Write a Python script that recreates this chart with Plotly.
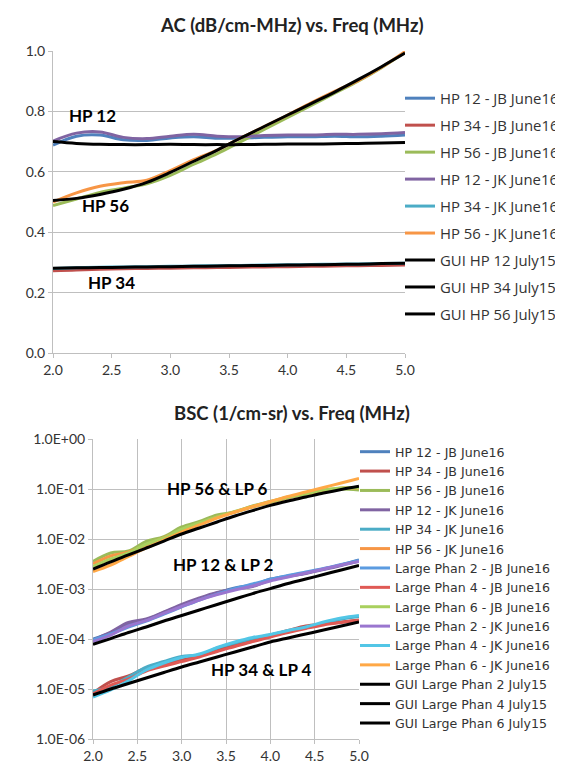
import plotly.graph_objects as go

freq = [2.0, 2.2, 2.4, 2.6, 2.8, 3.0, 3.2, 3.4, 3.6, 3.8, 4.0, 4.2, 4.4, 4.6, 4.8, 5.0]

# ---- Top chart: AC (dB/cm-MHz) ----
ac_hp12_jb = [0.688, 0.718, 0.722, 0.706, 0.704, 0.712, 0.716, 0.711, 0.712, 0.714, 0.716, 0.716, 0.718, 0.716, 0.718, 0.722]
ac_hp34_jb = [0.272, 0.275, 0.277, 0.279, 0.280, 0.281, 0.282, 0.283, 0.284, 0.285, 0.286, 0.287, 0.288, 0.289, 0.290, 0.291]
ac_hp56_jb = [0.488, 0.510, 0.532, 0.546, 0.560, 0.588, 0.625, 0.660, 0.700, 0.740, 0.780, 0.820, 0.860, 0.900, 0.945, 0.996]
ac_hp12_jk = [0.702, 0.728, 0.732, 0.714, 0.710, 0.718, 0.724, 0.718, 0.716, 0.720, 0.722, 0.722, 0.724, 0.724, 0.726, 0.730]
ac_hp34_jk = [0.280, 0.282, 0.284, 0.285, 0.286, 0.287, 0.288, 0.289, 0.290, 0.291, 0.292, 0.293, 0.294, 0.295, 0.296, 0.297]
ac_hp56_jk = [0.500, 0.530, 0.552, 0.564, 0.572, 0.604, 0.640, 0.672, 0.712, 0.750, 0.788, 0.828, 0.866, 0.902, 0.946, 0.998]
ac_gui_hp12 = [0.700, 0.694, 0.691, 0.690, 0.690, 0.691, 0.690, 0.690, 0.690, 0.691, 0.692, 0.692, 0.693, 0.694, 0.695, 0.697]
ac_gui_hp34 = [0.281, 0.282, 0.283, 0.284, 0.285, 0.286, 0.287, 0.288, 0.289, 0.290, 0.291, 0.292, 0.293, 0.294, 0.296, 0.297]
ac_gui_hp56 = [0.505, 0.512, 0.525, 0.542, 0.565, 0.598, 0.635, 0.672, 0.712, 0.750, 0.788, 0.826, 0.864, 0.905, 0.948, 0.993]

# ---- Bottom chart: BSC (1/cm-sr) ----
bsc_hp12_jb = [1.0e-4, 1.32e-4, 1.91e-4, 2.4e-4, 3.39e-4, 4.68e-4, 6.31e-4, 8.32e-4, 1.05e-3, 1.2e-3, 1.58e-3, 1.82e-3, 2.09e-3, 2.51e-3, 3.02e-3, 3.8e-3]
bsc_hp34_jb = [8.32e-6, 1.41e-5, 1.82e-5, 2.63e-5, 3.16e-5, 3.8e-5, 4.57e-5, 6.03e-5, 7.59e-5, 9.55e-5, 1.2e-4, 1.48e-4, 1.82e-4, 2.0e-4, 2.19e-4, 2.4e-4]
bsc_hp56_jb = [3.55e-3, 5.25e-3, 5.75e-3, 8.91e-3, 1.12e-2, 1.74e-2, 2.24e-2, 3.02e-2, 3.47e-2, 4.57e-2, 5.62e-2, 6.92e-2, 8.13e-2, 9.55e-2, 1.0e-1, 9.55e-2]
bsc_hp12_jk = [9.5e-5, 1.38e-4, 2.14e-4, 2.51e-4, 3.47e-4, 4.9e-4, 6.61e-4, 8.51e-4, 1.0e-3, 1.12e-3, 1.51e-3, 1.78e-3, 2.04e-3, 2.45e-3, 2.95e-3, 3.63e-3]
bsc_hp34_jk = [9.12e-6, 1.12e-5, 1.74e-5, 2.75e-5, 3.55e-5, 4.47e-5, 4.79e-5, 6.61e-5, 8.32e-5, 1.02e-4, 1.2e-4, 1.45e-4, 1.66e-4, 2.09e-4, 2.51e-4, 2.82e-4]
bsc_hp56_jk = [3.16e-3, 4.57e-3, 5.5e-3, 7.59e-3, 1.07e-2, 1.48e-2, 2.0e-2, 2.75e-2, 3.47e-2, 4.37e-2, 5.37e-2, 6.61e-2, 7.94e-2, 8.71e-2, 1.05e-1, 1.02e-1]
bsc_lp2_jb = [9.55e-5, 1.26e-4, 1.74e-4, 2.29e-4, 3.16e-4, 4.37e-4, 6.03e-4, 7.94e-4, 1.02e-3, 1.26e-3, 1.55e-3, 1.86e-3, 2.19e-3, 2.57e-3, 3.09e-3, 3.72e-3]
bsc_lp4_jb = [7.94e-6, 1.2e-5, 1.58e-5, 2.29e-5, 2.88e-5, 3.55e-5, 4.37e-5, 5.62e-5, 7.08e-5, 8.91e-5, 1.1e-4, 1.35e-4, 1.62e-4, 1.91e-4, 2.14e-4, 2.34e-4]
bsc_lp6_jb = [2.82e-3, 3.98e-3, 5.25e-3, 7.94e-3, 1.05e-2, 1.58e-2, 2.09e-2, 2.75e-2, 3.55e-2, 4.47e-2, 5.5e-2, 6.76e-2, 7.94e-2, 9.55e-2, 1.05e-1, 1.05e-1]
bsc_lp2_jk = [8.91e-5, 1.2e-4, 1.82e-4, 2.34e-4, 3.24e-4, 4.47e-4, 6.03e-4, 7.76e-4, 9.55e-4, 1.15e-3, 1.45e-3, 1.74e-3, 2.09e-3, 2.51e-3, 3.02e-3, 3.55e-3]
bsc_lp4_jk = [6.92e-6, 9.55e-6, 1.45e-5, 2.4e-5, 3.31e-5, 4.27e-5, 5.01e-5, 6.76e-5, 8.71e-5, 1.07e-4, 1.23e-4, 1.48e-4, 1.74e-4, 2.19e-4, 2.63e-4, 2.95e-4]
bsc_lp6_jk = [2.24e-3, 3.02e-3, 4.47e-3, 6.61e-3, 9.55e-3, 1.38e-2, 1.91e-2, 2.63e-2, 3.47e-2, 4.47e-2, 5.62e-2, 7.08e-2, 8.71e-2, 1.07e-1, 1.32e-1, 1.62e-1]
bsc_gui_lp2 = [7.8e-5, 1.02e-4, 1.35e-4, 1.74e-4, 2.29e-4, 2.95e-4, 3.8e-4, 4.9e-4, 6.3e-4, 8.1e-4, 1.02e-3, 1.29e-3, 1.58e-3, 1.95e-3, 2.4e-3, 2.95e-3]
bsc_gui_lp4 = [7.6e-6, 1.0e-5, 1.29e-5, 1.66e-5, 2.14e-5, 2.75e-5, 3.47e-5, 4.37e-5, 5.5e-5, 6.9e-5, 8.7e-5, 1.05e-4, 1.26e-4, 1.51e-4, 1.82e-4, 2.19e-4]
bsc_gui_lp6 = [2.5e-3, 3.5e-3, 4.8e-3, 6.6e-3, 9.1e-3, 1.26e-2, 1.66e-2, 2.19e-2, 2.88e-2, 3.7e-2, 4.7e-2, 5.75e-2, 6.9e-2, 8.3e-2, 9.8e-2, 1.13e-1]

ac_series = [
    ("HP 12 - JB June16", ac_hp12_jb, "#4F81BD"),
    ("HP 34 - JB June16", ac_hp34_jb, "#C0504D"),
    ("HP 56 - JB June16", ac_hp56_jb, "#9BBB59"),
    ("HP 12 - JK June16", ac_hp12_jk, "#8064A2"),
    ("HP 34 - JK June16", ac_hp34_jk, "#4BACC6"),
    ("HP 56 - JK June16", ac_hp56_jk, "#F79646"),
    ("GUI HP 12 July15", ac_gui_hp12, "#000000"),
    ("GUI HP 34 July15", ac_gui_hp34, "#000000"),
    ("GUI HP 56 July15", ac_gui_hp56, "#000000"),
]
bsc_series = [
    ("HP 12 - JB June16", bsc_hp12_jb, "#4F81BD"),
    ("HP 34 - JB June16", bsc_hp34_jb, "#C0504D"),
    ("HP 56 - JB June16", bsc_hp56_jb, "#9BBB59"),
    ("HP 12 - JK June16", bsc_hp12_jk, "#8064A2"),
    ("HP 34 - JK June16", bsc_hp34_jk, "#4BACC6"),
    ("HP 56 - JK June16", bsc_hp56_jk, "#F79646"),
    ("Large Phan 2 - JB June16", bsc_lp2_jb, "#5B9BE0"),
    ("Large Phan 4 - JB June16", bsc_lp4_jb, "#E05A55"),
    ("Large Phan 6 - JB June16", bsc_lp6_jb, "#A9D05E"),
    ("Large Phan 2 - JK June16", bsc_lp2_jk, "#9A76CF"),
    ("Large Phan 4 - JK June16", bsc_lp4_jk, "#52C6E6"),
    ("Large Phan 6 - JK June16", bsc_lp6_jk, "#FFA846"),
    ("GUI Large Phan 2 July15", bsc_gui_lp2, "#000000"),
    ("GUI Large Phan 4 July15", bsc_gui_lp4, "#000000"),
    ("GUI Large Phan 6 July15", bsc_gui_lp6, "#000000"),
]

bsc_tickvals = [1e-6, 1e-5, 1e-4, 1e-3, 1e-2, 1e-1, 1e0]
bsc_ticktext = ["1.0E-06", "1.0E-05", "1.0E-04", "1.0E-03", "1.0E-02", "1.0E-01", "1.0E+00"]

FONT = "Lato"
TXT = "#333333"
GRID = "#BFBFBF"

fig = go.Figure()
for i, (name, vals, col) in enumerate(ac_series):
    fig.add_trace(go.Scatter(
        x=freq, y=vals, name=name, mode="lines",
        line=dict(color=col, width=3, shape="spline", smoothing=1),
        xaxis="x", yaxis="y", legend="legend", legendgroup="a%d" % i,
    ))
for i, (name, vals, col) in enumerate(bsc_series):
    fig.add_trace(go.Scatter(
        x=freq, y=vals, name=name, mode="lines",
        line=dict(color=col, width=3, shape="spline", smoothing=1),
        xaxis="x2", yaxis="y2", legend="legend2",
    ))

W, H = 563, 764
def px_x(p):
    return p / W
def px_y(p):
    return 1 - p / H

axis_common = dict(
    showline=True, linecolor=GRID, linewidth=1,
    ticks="outside", ticklen=4, tickcolor=GRID,
    tickfont=dict(family=FONT, size=14, color=TXT),
    zeroline=False, automargin=False,
)

def note(text, x, y, xref, yref, size=17, color="#000000"):
    return dict(text=text, x=x, y=y, xref=xref, yref=yref, showarrow=False,
                xanchor="center", yanchor="middle",
                font=dict(family=FONT, size=size, color=color))

fig.update_layout(
    width=W, height=H,
    margin=dict(l=0, r=0, t=0, b=0, pad=0, autoexpand=False),
    paper_bgcolor="white", plot_bgcolor="white",
    font=dict(family=FONT, color=TXT),
    xaxis=dict(domain=[px_x(45), px_x(397)], anchor="y", range=[2, 5], dtick=0.5,
               tickformat=".1f", showgrid=False, **axis_common),
    yaxis=dict(domain=[px_y(345), px_y(43)], anchor="x", range=[0, 1], dtick=0.2,
               tickformat=".1f", showgrid=True, gridcolor=GRID, **axis_common),
    xaxis2=dict(domain=[px_x(85), px_x(351)], anchor="y2", range=[2, 5], dtick=0.5,
                tickformat=".1f", showgrid=True, gridcolor=GRID, **axis_common),
    yaxis2=dict(domain=[px_y(731), px_y(431)], anchor="x2", type="log", range=[-6, 0],
                tickvals=bsc_tickvals, ticktext=bsc_ticktext,
                showgrid=True, gridcolor=GRID, **axis_common),
    legend=dict(x=px_x(392), y=px_y(74), xanchor="left", yanchor="top",
                font=dict(family="Open Sans", size=14.9, color=TXT), tracegroupgap=4.6,
                bgcolor="rgba(0,0,0,0)"),
    legend2=dict(x=px_x(347), y=px_y(429), xanchor="left", yanchor="top",
                 font=dict(family="DejaVu Sans", size=12.6, color=TXT), tracegroupgap=0,
                 bgcolor="rgba(0,0,0,0)"),
    annotations=[
        note("<b>AC (dB/cm-MHz) vs. Freq (MHz)</b>", px_x(284), px_y(17), "paper", "paper", 18.5, "#222222"),
        note("<b>BSC (1/cm-sr) vs. Freq (MHz)</b>", px_x(284), px_y(405), "paper", "paper", 18.5, "#222222"),
        note("<b>HP 12</b>", 2.337, 0.788, "x", "y"),
        note("<b>HP 56</b>", 2.447, 0.49, "x", "y"),
        note("<b>HP 34</b>", 2.499, 0.235, "x", "y"),
        note("<b>HP 56 &amp; LP 6</b>", 3.404, -0.98, "x2", "y2"),
        note("<b>HP 12 &amp; LP 2</b>", 3.472, -2.51, "x2", "y2"),
        note("<b>HP 34 &amp; LP 4</b>", 3.895, -4.6, "x2", "y2"),
    ],
)

fig.write_html("out.html")
